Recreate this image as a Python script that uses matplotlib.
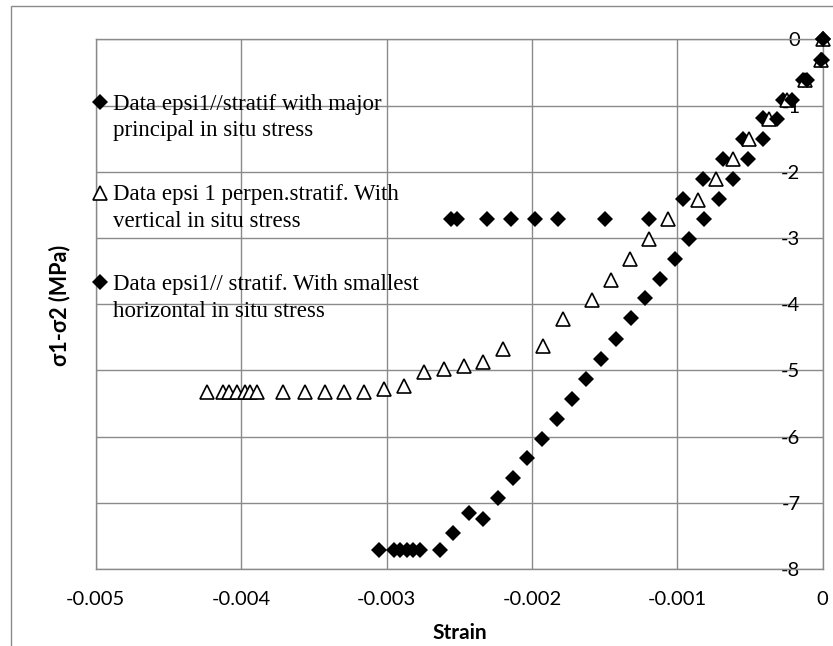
import matplotlib
matplotlib.use("Agg")
import matplotlib.pyplot as plt
from matplotlib.patches import Rectangle
from matplotlib.lines import Line2D

plt.rcParams['axes.unicode_minus'] = False

# ---- data ----
x_major = [-0.002558, -0.002517, -0.002307, -0.002144, -0.001981, -0.00182, -0.001497, -0.001195,
           -0.000963, -0.000825, -0.000688, -0.00055, -0.000413, -0.000271, -0.000138, -0.000007, 0.0]
y_major = [-2.72, -2.72, -2.72, -2.72, -2.72, -2.72, -2.72, -2.72,
           -2.41, -2.11, -1.81, -1.50, -1.19, -0.91, -0.61, -0.31, 0.0]

x_vert = [-0.004237, -0.004125, -0.004081, -0.00403, -0.003973, -0.003939, -0.003893, -0.003712,
          -0.003561, -0.003424, -0.003293, -0.003155, -0.003017, -0.00288, -0.002742, -0.002604,
          -0.002467, -0.002334, -0.002197, -0.001926, -0.001788, -0.001589, -0.001458, -0.001325,
          -0.001195, -0.001062, -0.000856, -0.000736, -0.000615, -0.000507, -0.000367, -0.000248,
          -0.000122, -0.00001, 0.0]
y_vert = [-5.33, -5.33, -5.33, -5.33, -5.33, -5.33, -5.33, -5.33, -5.33, -5.33, -5.33, -5.33,
          -5.28, -5.23, -5.03, -4.98, -4.93, -4.88, -4.68, -4.63, -4.23, -3.93, -3.63, -3.32,
          -3.02, -2.72, -2.42, -2.11, -1.81, -1.51, -1.21, -0.92, -0.61, -0.31, 0.0]

x_small = [-0.00305, -0.00295, -0.00291, -0.00286, -0.00282, -0.00277, -0.00263, -0.00254,
           -0.002433, -0.002334, -0.002231, -0.002132, -0.002032, -0.001928, -0.00183, -0.001726,
           -0.00163, -0.001525, -0.001422, -0.00132, -0.00122, -0.001119, -0.001016, -0.000917,
           -0.000816, -0.000711, -0.000615, -0.000512, -0.000408, -0.000316, -0.000213, -0.00011,
           -0.00001, 0.0]
y_small = [-7.72, -7.72, -7.72, -7.72, -7.72, -7.72, -7.72, -7.45,
           -7.15, -7.24, -6.93, -6.63, -6.33, -6.03, -5.74, -5.43,
           -5.13, -4.83, -4.53, -4.21, -3.91, -3.62, -3.32, -3.02,
           -2.71, -2.41, -2.11, -1.81, -1.51, -1.21, -0.91, -0.61,
           -0.31, 0.0]

series_labels = [
    ["Data epsi1//stratif with major", "principal in situ stress"],
    ["Data epsi 1 perpen.stratif. With", "vertical in situ stress"],
    ["Data epsi1// stratif. With smallest", "horizontal in situ stress"],
]
x_ticks = [-0.005, -0.004, -0.003, -0.002, -0.001, 0.0]
x_tick_labels = ["-0.005", "-0.004", "-0.003", "-0.002", "-0.001", "0"]
y_ticks = [0, -1, -2, -3, -4, -5, -6, -7, -8]
y_tick_labels = ["0", "-1", "-2", "-3", "-4", "-5", "-6", "-7", "-8"]

W, H = 833, 646
fig = plt.figure(figsize=(W / 100, H / 100), dpi=100)

def fx(px):
    return px / W

def fy(py):
    return 1 - py / H

L, R, T, B = 95.7, 822.7, 39.3, 569.0
ax = fig.add_axes([fx(L), fy(B), fx(R) - fx(L), fy(T) - fy(B)])

grid_c = "#8a8a8a"
# outer chart border
fig.patches.append(Rectangle((fx(11), fy(700)), fx(860), fy(6) - fy(700), transform=fig.transFigure,
                             fill=False, edgecolor=grid_c, lw=1.0, zorder=0))

ax.set_xlim(-0.005, 0)
ax.set_ylim(-8, 0)
ax.grid(True, color=grid_c, lw=1.0)
ax.set_axisbelow(True)
for s in ax.spines.values():
    s.set_color(grid_c)
    s.set_linewidth(1.0)

ax.plot(x_major, y_major, linestyle="none", marker="D", ms=8.5, mfc="black", mec="black", mew=0,
        clip_on=False, zorder=3)
ax.plot(x_vert, y_vert, linestyle="none", marker="^", ms=10.5, mfc="white", mec="black", mew=1.2,
        clip_on=False, zorder=4)
ax.plot(x_small, y_small, linestyle="none", marker="D", ms=8.5, mfc="black", mec="black", mew=0,
        clip_on=False, zorder=5)

tick_font = "Lato"
ax.set_xticks(x_ticks)
ax.set_xticklabels(x_tick_labels, fontsize=14.5, family=tick_font)
ax.tick_params(axis="x", length=0, pad=16)
ax.yaxis.tick_right()
ax.set_yticks(y_ticks)
ax.set_yticklabels(y_tick_labels, fontsize=14.5, family=tick_font)
ax.tick_params(axis="y", length=0, pad=-16)
for lab in ax.get_yticklabels():
    lab.set_horizontalalignment("right")

ax.set_xlabel("Strain", fontsize=15, fontweight="bold", family=tick_font)
ax.xaxis.set_label_coords((460 - L) / (R - L), (B - 633) / (B - T))
ax.xaxis.label.set_verticalalignment("center")
fig.text(fx(60), fy(305), "σ1-σ2 (MPa)", rotation=90, ha="center", va="center",
         fontsize=15.5, fontweight="bold", family=["Lato", "DejaVu Sans"])

# legend (manual, inside plot)
leg_marker_y = [102, 193, 282]
leg_base_y = [(110, 136), (200, 227), (290, 317)]
leg_markers = [dict(marker="D", ms=8.5, mfc="black", mec="black", mew=0),
               dict(marker="^", ms=10.5, mfc="white", mec="black", mew=1.2),
               dict(marker="D", ms=8.5, mfc="black", mec="black", mew=0)]
for my, bases, lines, mk in zip(leg_marker_y, leg_base_y, series_labels, leg_markers):
    fig.add_artist(Line2D([fx(100)], [fy(my)], transform=fig.transFigure, linestyle="none", **mk))
    for by, line in zip(bases, lines):
        fig.text(fx(113), fy(by), line, ha="left", va="baseline", fontsize=16.5,
                 family="Liberation Serif")

fig.savefig("out.png", dpi=100)
